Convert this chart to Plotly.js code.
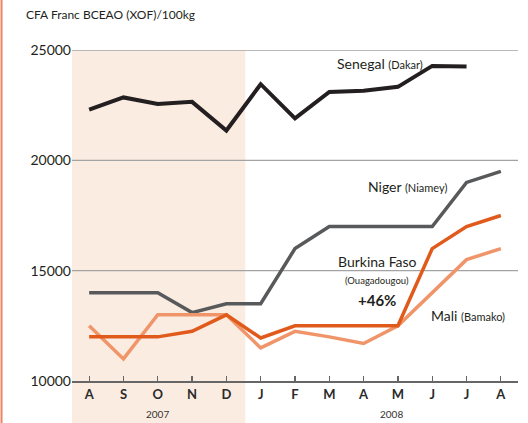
<!DOCTYPE html>
<html><head><meta charset="utf-8">
<script src="https://cdn.plot.ly/plotly-3.0.1.min.js"></script>
<style>html,body{margin:0;padding:0;background:#fff}#c{width:528px;height:423px}</style>
</head><body><div id="c"></div>
<script>
const months = ['A','S','O','N','D','J','F','M','A','M','J','J','A'];
const idx = [0,1,2,3,4,5,6,7,8,9,10,11,12];
const senegal = [22300,22850,22550,22650,21350,23450,21900,23100,23150,23330,24280,24250,null];
const niger = [14000,14000,14000,13100,13500,13500,16000,17000,17000,17000,17000,19000,19500];
const burkina = [12000,12000,12000,12250,13000,11950,12500,12500,12500,12500,16000,17000,17500];
const mali = [12500,11000,13000,13000,13000,11500,12250,12000,11700,12500,14000,15500,16000];
const yTicks = [10000,15000,20000,25000];
const yTickText = ['10000','15000','20000','25000'];

const FONT = 'Lato, "Open Sans", sans-serif';
function tr(y, color, w){
  return {x: idx, y: y, type:'scatter', mode:'lines', line:{color:color, width:w}, hoverinfo:'skip', connectgaps:false};
}
const data = [
  tr(niger,'#58595b',3.5),
  tr(mali,'#f0956a',3.5),
  tr(burkina,'#e05a1c',3.5),
  tr(senegal,'#231f20',4)
];
const SHADE = '#fbece2';
const shapes = [
  {type:'rect', xref:'x', yref:'paper', x0:-0.56, x1:4.55, y0:-0.14, y1:1, fillcolor:SHADE, line:{width:0}, layer:'below'},
  {type:'line', xref:'paper', yref:'paper', x0:-0.158, x1:-0.158, y0:-0.14, y1:1.16, line:{color:'#f08462', width:2}}
];
yTicks.filter(v => v > 10000).forEach(v => shapes.push(
  {type:'line', xref:'paper', yref:'y', x0:0, x1:1, y0:v, y1:v, line:{color:'#a3a3a3', width:1.3}, layer:'below'}
));
const layout = {
  width:528, height:423,
  margin:{l:72, r:10, t:50, b:42},
  paper_bgcolor:'#fff', plot_bgcolor:'rgba(0,0,0,0)',
  showlegend:false,
  font:{family:FONT, color:'#231f20'},
  xaxis:{range:[-0.5,12.5], tickvals:idx, ticktext:months, ticks:'inside', ticklen:5, tickwidth:1.2, tickcolor:'#666',
         showline:true, linecolor:'#666', linewidth:2, showgrid:false, zeroline:false,
         tickfont:{family:FONT, size:13, color:'#2a2a2a', weight:'bold'}, fixedrange:true},
  yaxis:{range:[10000,25000], tickvals:yTicks, ticktext:yTickText, showgrid:false,
         zeroline:false, showline:false, ticks:'', tickfont:{family:FONT, size:14, color:'#231f20'}, fixedrange:true},
  shapes: shapes,
  annotations:[
    {xref:'paper', yref:'paper', x:-0.108, y:1.106, xanchor:'left', yanchor:'middle', showarrow:false,
     text:'CFA Franc BCEAO (XOF)/100kg', font:{family:FONT, size:12, color:'#231f20'}},
    {xref:'x', yref:'paper', x:2, y:-0.1, yanchor:'middle', showarrow:false, text:'2007', font:{family:FONT, size:10, color:'#333'}},
    {xref:'x', yref:'paper', x:8.8, y:-0.1, yanchor:'middle', showarrow:false, text:'2008', font:{family:FONT, size:10, color:'#333'}},
    {xref:'x', yref:'y', x:9.8, y:24400, xanchor:'right', yanchor:'middle', showarrow:false,
     text:'Senegal <span style="font-size:11px">(Dakar)</span>', font:{family:FONT, size:14, color:'#231f20'}},
    {xref:'x', yref:'y', x:10.5, y:18800, xanchor:'right', yanchor:'middle', showarrow:false,
     text:'Niger <span style="font-size:11px">(Niamey)</span>', font:{family:FONT, size:14, color:'#231f20'}},
    {xref:'x', yref:'y', x:8.4, y:15400, xanchor:'center', yanchor:'middle', showarrow:false,
     text:'Burkina Faso', font:{family:FONT, size:14, color:'#231f20'}},
    {xref:'x', yref:'y', x:8.4, y:14550, xanchor:'center', yanchor:'middle', showarrow:false,
     text:'(Ouagadougou)', font:{family:FONT, size:9.5, color:'#231f20'}},
    {xref:'x', yref:'y', x:8.4, y:13680, xanchor:'center', yanchor:'middle', showarrow:false,
     text:'<b>+46%</b>', font:{family:FONT, size:15, color:'#231f20'}},
    {xref:'x', yref:'y', x:9.92, y:12950, xanchor:'left', yanchor:'middle', showarrow:false,
     text:'Mali <span style="font-size:11px">(Bamako)</span>', font:{family:FONT, size:14, color:'#231f20'}}
  ]
};
Plotly.newPlot('c', data, layout, {staticPlot:true, displayModeBar:false});
</script></body></html>
